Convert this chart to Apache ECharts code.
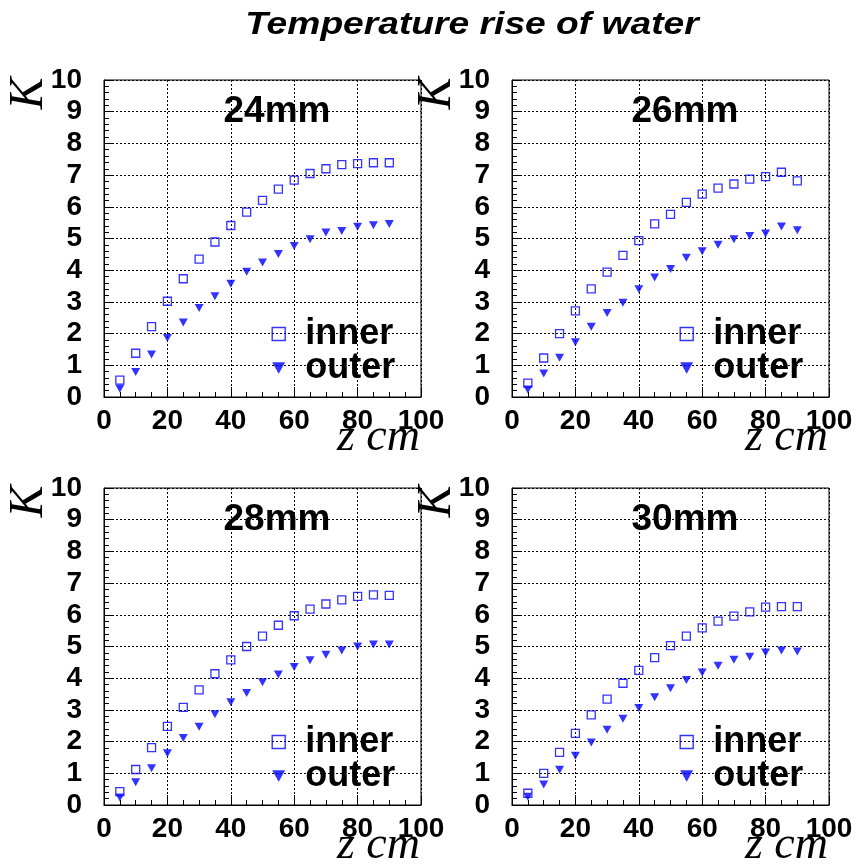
<!DOCTYPE html>
<html><head><meta charset="utf-8">
<script src="https://cdn.jsdelivr.net/npm/echarts@6/dist/echarts.min.js"></script>
<style>html,body{margin:0;padding:0;background:#fff}#c{width:856px;height:867px}</style>
</head><body><div id="c"></div>
<script>
// ---- data ----
const zValues = [5,10,15,20,25,30,35,40,45,50,55,60,65,70,75,80,85,90];
const panelLabels = ['24mm','26mm','28mm','30mm'];
const seriesNames = ['inner','outer'];
const inner24 = [0.53,1.38,2.22,3.02,3.73,4.35,4.89,5.41,5.83,6.20,6.56,6.84,7.05,7.20,7.33,7.36,7.39,7.39];
const outer24 = [0.26,0.79,1.34,1.86,2.35,2.81,3.18,3.57,3.95,4.24,4.51,4.76,4.98,5.19,5.24,5.37,5.42,5.46];
const inner26 = [0.44,1.23,2.00,2.72,3.41,3.94,4.47,4.93,5.46,5.76,6.14,6.40,6.59,6.72,6.87,6.95,7.09,6.82];
const outer26 = [0.24,0.74,1.24,1.73,2.22,2.65,2.97,3.40,3.77,4.04,4.39,4.60,4.80,4.98,5.08,5.16,5.38,5.26];
const inner28 = [0.42,1.12,1.81,2.48,3.08,3.63,4.14,4.58,5.00,5.33,5.67,5.97,6.18,6.34,6.47,6.58,6.63,6.61];
const outer28 = [0.24,0.72,1.16,1.63,2.11,2.47,2.86,3.24,3.53,3.87,4.12,4.35,4.57,4.74,4.87,5.00,5.06,5.06];
const inner30 = [0.37,1.00,1.66,2.26,2.84,3.34,3.84,4.25,4.65,5.03,5.33,5.59,5.80,5.96,6.09,6.24,6.26,6.26];
const outer30 = [0.26,0.65,1.11,1.55,1.97,2.37,2.72,3.06,3.40,3.68,3.94,4.18,4.39,4.58,4.68,4.81,4.87,4.84];
const xTickLabels = ['0','20','40','60','80','100'];
const yTickLabels = ['0','1','2','3','4','5','6','7','8','9','10'];
const titleText = 'Temperature rise of water';
const yName = 'K';
const xName = 'z cm';

const innerSets = [inner24, inner26, inner28, inner30];
const outerSets = [outer24, outer26, outer28, outer30];

// ---- layout / style ----
const gridLefts = [104, 512, 104, 512];
const gridTops = [80, 80, 488, 488];
const GW = 317, GH = 317;
const BLUE = '#0000ff';
const SANS = '"Liberation Sans", Arial, sans-serif';
const SERIF = '"Liberation Serif", "Times New Roman", serif';
const DOWN_TRIANGLE = 'path://M0,0 L10,0 L5,9 Z';

const zip = (xs, ys) => xs.map((x, i) => [x, ys[i]]);

const grids = gridLefts.map((l, i) => ({
  left: l, top: gridTops[i], width: GW, height: GH,
  show: true, borderColor: '#000', borderWidth: 1, backgroundColor: '#fff'
}));

const xAxes = gridLefts.map((l, i) => ({
  type: 'value', gridIndex: i, min: 0, max: 100, interval: 20,
  axisLine: { show: true, onZero: false, lineStyle: { color: '#000', width: 1 } },
  axisTick: { show: true, inside: true, length: 10, lineStyle: { color: '#000' } },
  minorTick: { show: true, splitNumber: 4, length: 5, lineStyle: { color: '#000' } },
  splitLine: { show: true, lineStyle: { color: '#000', type: [2, 2], width: 1 } },
  axisLabel: {
    margin: 10, color: '#000', fontFamily: SANS, fontWeight: 'bold', fontSize: 28,
    showMinLabel: true, showMaxLabel: true, hideOverlap: false,
    formatter: v => xTickLabels[Math.round(v / 20)]
  }
}));

const yAxes = gridLefts.map((l, i) => ({
  type: 'value', gridIndex: i, min: 0, max: 10, interval: 1,
  axisLine: { show: true, onZero: false, lineStyle: { color: '#000', width: 1 } },
  axisTick: { show: true, inside: true, length: 10, lineStyle: { color: '#000' } },
  minorTick: { show: true, splitNumber: 5, length: 5, lineStyle: { color: '#000' } },
  splitLine: { show: true, lineStyle: { color: '#000', type: [2, 2], width: 1 } },
  axisLabel: {
    margin: 22, color: '#000', fontFamily: SANS, fontWeight: 'bold', fontSize: 28,
    showMinLabel: true, showMaxLabel: true, hideOverlap: false,
    formatter: v => yTickLabels[Math.round(v)]
  }
}));

const series = [];
for (let i = 0; i < 4; i++) {
  series.push({
    name: seriesNames[0], type: 'scatter', xAxisIndex: i, yAxisIndex: i,
    symbol: 'rect', symbolSize: 8,
    itemStyle: { color: 'rgba(0,0,0,0)', borderColor: BLUE, borderWidth: 1.3 },
    data: zip(zValues, innerSets[i])
  });
  series.push({
    name: seriesNames[1], type: 'scatter', xAxisIndex: i, yAxisIndex: i,
    symbol: DOWN_TRIANGLE, symbolSize: [9, 8],
    itemStyle: { color: BLUE },
    data: zip(zValues, outerSets[i])
  });
}

const legends = gridLefts.map((l, i) => ({
  orient: 'vertical', left: l + 167.5, top: gridTops[i] + 236,
  padding: 0, itemGap: -2, itemWidth: 13, itemHeight: 13,
  selectedMode: false,
  textStyle: { fontFamily: SANS, fontWeight: 'bold', fontSize: 36, color: '#000', padding: [0, 0, 0, 15] },
  data: [
    { name: seriesNames[0], icon: 'rect', itemStyle: { color: 'rgba(0,0,0,0)', borderColor: BLUE, borderWidth: 1.4 } },
    { name: seriesNames[1], icon: DOWN_TRIANGLE, itemStyle: { color: BLUE, borderWidth: 0 } }
  ]
}));

const graphics = [];
graphics.push({
  type: 'text', x: 472, y: 25, scaleX: 1.2,
  style: { text: titleText, font: 'italic bold 31px ' + SANS, fill: '#000', align: 'center', verticalAlign: 'middle' }
});
for (let i = 0; i < 4; i++) {
  const l = gridLefts[i], t = gridTops[i];
  graphics.push({
    type: 'text', x: l - 75, y: t + 13.5, rotation: Math.PI / 2,
    style: { text: yName, font: 'italic 48px ' + SERIF, fill: '#000', align: 'center', verticalAlign: 'middle' }
  });
  graphics.push({
    type: 'text', x: l + GW - 1, y: t + GH + 41,
    style: { text: xName, font: 'italic 46px ' + SERIF, fill: '#000', align: 'right', verticalAlign: 'middle' }
  });
  graphics.push({
    type: 'text', x: l + 173, y: t + 32,
    style: { text: panelLabels[i], font: 'bold 37px ' + SANS, fill: '#000', align: 'center', verticalAlign: 'middle' }
  });
}

const chart = echarts.init(document.getElementById('c'), null, { renderer: 'canvas' });
chart.setOption({
  backgroundColor: '#fff',
  animation: false,
  grid: grids, xAxis: xAxes, yAxis: yAxes,
  legend: legends,
  series: series,
  graphic: graphics
});
</script></body></html>
